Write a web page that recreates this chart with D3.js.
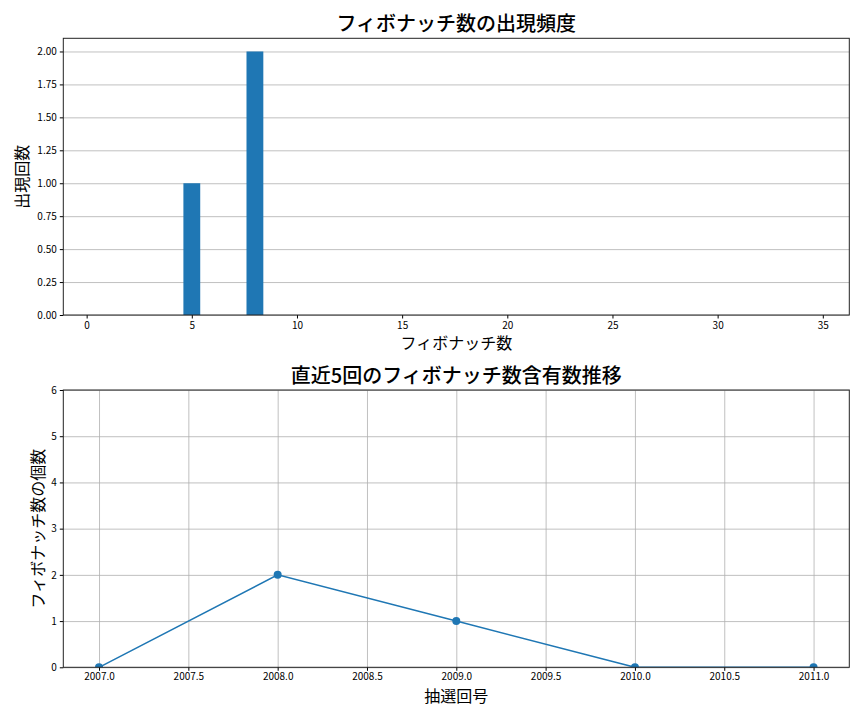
<!DOCTYPE html>
<html>
<head>
<meta charset="utf-8">
<script src="https://cdn.jsdelivr.net/npm/d3@7"></script>
<style>
  body { margin: 0; background: #fff; }
  svg text { font-family: "Noto Sans CJK JP", "Noto Sans", sans-serif; fill: #000; }
  .tick text { font-size: 10px; }
  .tick line { stroke: #000; }
  .domain { stroke: none; }
  .grid line { stroke: #b0b0b0; stroke-width: 0.8; }
  .grid .domain { display: none; }
</style>
</head>
<body>
<div id="chart"></div>
<script>
// top chart: fibonacci number frequency
const fibNumbers = [5, 8];
const fibCounts = [1, 2];
const barTicks = [0, 5, 10, 15, 20, 25, 30, 35];
const countTicks = [0, 0.25, 0.5, 0.75, 1.0, 1.25, 1.5, 1.75, 2.0];

// bottom chart: last 5 draws
const drawNos = [2007, 2008, 2009, 2010, 2011];
const fibIncluded = [0, 2, 1, 0, 0];
const drawTicks = [2007.0, 2007.5, 2008.0, 2008.5, 2009.0, 2009.5, 2010.0, 2010.5, 2011.0];
const numTicks = [0, 1, 2, 3, 4, 5, 6];

const W = 864, H = 720;
const blue = "#1f77b4";
const svg = d3.select("#chart").append("svg").attr("width", W).attr("height", H);

function frame(g, w, h) {
  g.append("rect").attr("x", 0).attr("y", 0).attr("width", w).attr("height", h)
    .attr("fill", "none").attr("stroke", "#222").attr("stroke-width", 1);
}

// ---------- top ----------
const m1 = {left: 63.3, top: 38.3, right: 849.3, bottom: 315};
const w1 = m1.right - m1.left, h1 = m1.bottom - m1.top;
const g1 = svg.append("g").attr("transform", `translate(${m1.left},${m1.top})`);
const x1 = d3.scaleLinear().domain([-1.11, 36.26]).range([0, w1]);
const y1 = d3.scaleLinear().domain([0, 2.1]).range([h1, 0]);

g1.append("g").attr("class", "grid")
  .call(d3.axisLeft(y1).tickValues(countTicks).tickSize(-w1).tickFormat(""));

const bars = fibNumbers.map((n, i) => ({n: n, c: fibCounts[i]}));
g1.selectAll("rect.bar").data(bars).enter().append("rect").attr("class", "bar")
  .attr("x", d => x1(d.n - 0.4)).attr("width", d => x1(d.n + 0.4) - x1(d.n - 0.4))
  .attr("y", d => y1(d.c)).attr("height", d => y1(0) - y1(d.c))
  .attr("fill", blue);

g1.append("g").attr("transform", `translate(0,${h1})`)
  .call(d3.axisBottom(x1).tickValues(barTicks).tickSize(3.5).tickPadding(3).tickFormat(d3.format("d")));
g1.append("g")
  .call(d3.axisLeft(y1).tickValues(countTicks).tickSize(3.5).tickPadding(3).tickFormat(d3.format(".2f")));
frame(g1, w1, h1);

svg.append("text").attr("x", m1.left + w1 / 2).attr("y", 31).attr("text-anchor", "middle")
  .attr("font-size", 20).attr("font-weight", 500).text("フィボナッチ数の出現頻度");
svg.append("text").attr("x", m1.left + w1 / 2).attr("y", 349).attr("text-anchor", "middle")
  .attr("font-size", 16).text("フィボナッチ数");
svg.append("text").attr("transform", `translate(28,${m1.top + h1 / 2}) rotate(-90)`)
  .attr("text-anchor", "middle").attr("font-size", 16).text("出現回数");

// ---------- bottom ----------
const m2 = {left: 63.3, top: 390, right: 849.3, bottom: 667.3};
const w2 = m2.right - m2.left, h2 = m2.bottom - m2.top;
const g2 = svg.append("g").attr("transform", `translate(${m2.left},${m2.top})`);
const x2 = d3.scaleLinear().domain([2006.8, 2011.2]).range([0, w2]);
const y2 = d3.scaleLinear().domain([0, 6]).range([h2, 0]);

svg.append("defs").append("clipPath").attr("id", "clip2")
  .append("rect").attr("x", 0).attr("y", 0).attr("width", w2).attr("height", h2);

g2.append("g").attr("class", "grid")
  .call(d3.axisLeft(y2).tickValues(numTicks).tickSize(-w2).tickFormat(""));
g2.append("g").attr("class", "grid").attr("transform", `translate(0,${h2})`)
  .call(d3.axisBottom(x2).tickValues(drawTicks).tickSize(-h2).tickFormat(""));

const pts = drawNos.map((d, i) => ({x: d, y: fibIncluded[i]}));
const plot = g2.append("g").attr("clip-path", "url(#clip2)");
plot.append("path").datum(pts)
  .attr("fill", "none").attr("stroke", blue).attr("stroke-width", 1.5)
  .attr("d", d3.line().x(d => x2(d.x)).y(d => y2(d.y)));
plot.selectAll("circle").data(pts).enter().append("circle")
  .attr("cx", d => x2(d.x)).attr("cy", d => y2(d.y)).attr("r", 4).attr("fill", blue);

g2.append("g").attr("transform", `translate(0,${h2})`)
  .call(d3.axisBottom(x2).tickValues(drawTicks).tickSize(3.5).tickPadding(2.5).tickFormat(d3.format(".1f")));
g2.append("g")
  .call(d3.axisLeft(y2).tickValues(numTicks).tickSize(3.5).tickPadding(3).tickFormat(d3.format("d")));
frame(g2, w2, h2);

svg.append("text").attr("x", m2.left + w2 / 2).attr("y", 383).attr("text-anchor", "middle")
  .attr("font-size", 20).attr("font-weight", 500).text("直近5回のフィボナッチ数含有数推移");
svg.append("text").attr("x", m2.left + w2 / 2).attr("y", 702).attr("text-anchor", "middle")
  .attr("font-size", 16).text("抽選回号");
svg.append("text").attr("transform", `translate(44,${m2.top + h2 / 2}) rotate(-90)`)
  .attr("text-anchor", "middle").attr("font-size", 16).text("フィボナッチ数の個数");
</script>
</body>
</html>
